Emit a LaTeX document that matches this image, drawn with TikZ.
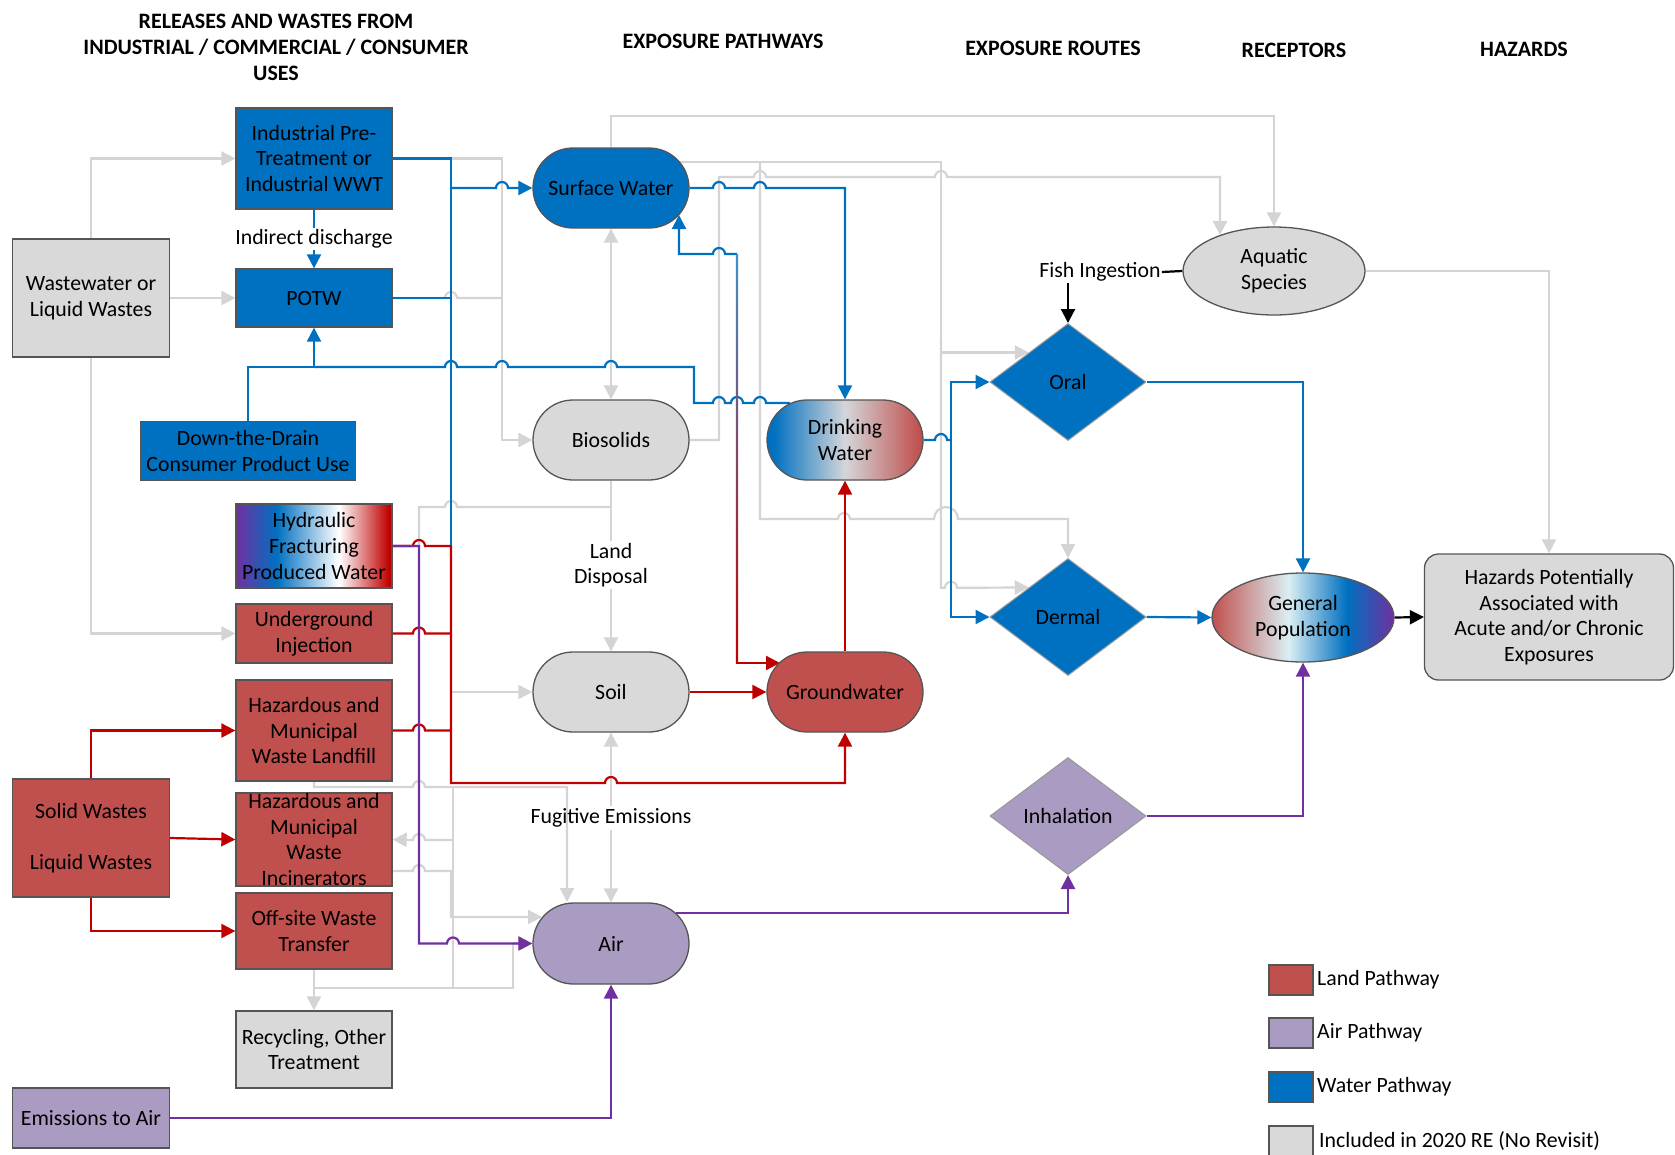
\documentclass[tikz,border=0pt]{standalone}
\usepackage{fontspec}
\setmainfont{Carlito}
\usetikzlibrary{arrows.meta,shapes.geometric,shapes.misc}
\pgfdeclarelayer{bg}
\pgfsetlayers{bg,main}
\definecolor{cblue}{RGB}{0,112,192}
\definecolor{cland}{RGB}{192,80,77}
\definecolor{cair}{RGB}{169,155,193}
\definecolor{cgrayf}{RGB}{217,217,217}
\definecolor{cred}{RGB}{192,0,0}
\definecolor{cpurp}{RGB}{112,48,160}
\definecolor{cgl}{RGB}{212,212,212}
\definecolor{clcyan}{RGB}{218,238,243}
\definecolor{cdwmid}{RGB}{212,214,218}
\definecolor{cbord}{RGB}{85,85,85}
\pgfdeclarehorizontalshading{hfsh}{100bp}{color(0bp)=(cpurp); color(25bp)=(cpurp); color(38bp)=(cblue); color(58bp)=(white); color(74bp)=(cred); color(100bp)=(cred)}
\pgfdeclarehorizontalshading{dwsh}{100bp}{color(0bp)=(cblue); color(27bp)=(cblue); color(50bp)=(cdwmid); color(74bp)=(cland); color(100bp)=(cland)}
\pgfdeclarehorizontalshading{gpsh}{100bp}{color(0bp)=(cland); color(25bp)=(cland); color(46bp)=(clcyan); color(62bp)=(cblue); color(75bp)=(cpurp); color(100bp)=(cpurp)}
\tikzset{
 every node/.style={font=\fontsize{21.8}{25.6}\selectfont, text=black},
 bx/.style={draw=cbord, line width=1.3pt, rectangle, inner sep=0pt, align=center},
 stad/.style={draw=cbord, line width=1.3pt, rounded rectangle, minimum width=156pt, minimum height=80pt, inner sep=0pt, align=center},
 dia/.style={diamond, draw=black!40, line width=1pt, minimum width=156pt, minimum height=117pt, inner sep=0pt},
 ell/.style={ellipse, draw=cbord, line width=1.3pt, minimum width=182pt, minimum height=88pt, inner sep=0pt, align=center},
 conn/.style={line width=2.2pt},
 gl/.style={conn, draw=cgl},
 bl/.style={conn, draw=cblue},
 rl/.style={conn, draw=cred},
 pl/.style={conn, draw=cpurp},
 kl/.style={conn, draw=black},
 arr/.style={-{Triangle[length=14pt,width=14pt]}},
 arrs/.style={{Triangle[length=14pt,width=14pt]}-},
 arr2/.style={{Triangle[length=14pt,width=14pt]}-{Triangle[length=14pt,width=14pt]}},
 hopr/.style={start angle=180, end angle=0, radius=6pt},
 hopl/.style={start angle=0, end angle=180, radius=6pt},
 bighop/.style={start angle=180, end angle=0, radius=12pt},
 hdr/.style={font=\fontsize{22}{26.2}\selectfont\bfseries, align=center},
}
\begin{document}
\begin{tikzpicture}[x=1pt,y=-1pt]
\begin{pgfonlayer}{bg}
\fill[white] (0,0) rectangle (1675,1154);
\end{pgfonlayer}
\useasboundingbox (0,0) rectangle (1675,1154);

% headers
\node[hdr] (h1) at (276,47.5) {RELEASES AND WASTES FROM\\INDUSTRIAL / COMMERCIAL / CONSUMER\\USES};
\node[hdr] (h2) at (723,41) {EXPOSURE PATHWAYS};
\node[hdr] (h3) at (1053,48) {EXPOSURE ROUTES};
\node[hdr] (h4) at (1294,50) {RECEPTORS};
\node[hdr] (h5) at (1524,49) {HAZARDS};

% source boxes
\node[bx, fill=cgrayf, minimum width=157pt, minimum height=118pt] (ww) at (91,298) {Wastewater or\\Liquid Wastes};
\node[bx, fill=cblue, minimum width=156pt, minimum height=101pt] (ind) at (314,158.5) {Industrial Pre-\\Treatment or\\Industrial WWT};
\node[bx, fill=cblue, minimum width=156pt, minimum height=58pt] (potw) at (314,298) {POTW};
\node[bx, fill=cblue, minimum width=215pt, minimum height=59pt] (dtd) at (248,451) {Down-the-Drain\\Consumer Product Use};
\node[bx, shade, shading=hfsh, minimum width=156pt, minimum height=84pt] (hf) at (314,546) {Hydraulic\\Fracturing\\Produced Water};
\node[bx, fill=cland, minimum width=156pt, minimum height=59pt] (ui) at (314,633.5) {Underground\\Injection};
\node[bx, fill=cland, minimum width=156pt, minimum height=101pt] (lf) at (314,730.5) {Hazardous and\\Municipal\\Waste Landfill};
\node[bx, fill=cland, minimum width=156pt, minimum height=93pt] (inc) at (314,839.5) {};
\node[align=center, inner sep=0pt] (inct) at (inc.center) {Hazardous and\\Municipal\\Waste\\Incinerators};
\node[bx, fill=cland, minimum width=157pt, minimum height=118pt] (sl) at (91,838) {Solid Wastes\\[25.6pt]Liquid Wastes};
\node[bx, fill=cland, minimum width=156pt, minimum height=76pt] (ow) at (314,931) {Off-site Waste\\Transfer};
\node[bx, fill=cgrayf, minimum width=156pt, minimum height=77pt] (rec) at (314,1049.5) {Recycling, Other\\Treatment};
\node[bx, fill=cair, minimum width=157pt, minimum height=60pt] (ea) at (91,1118) {Emissions to Air};

% pathways
\node[stad, fill=cblue] (sw) at (611,188) {Surface Water};
\node[stad, fill=cgrayf] (bio) at (611,440) {Biosolids};
\node[stad, fill=cgrayf] (soil) at (611,692) {Soil};
\node[stad, fill=cair, minimum height=81pt] (air) at (611,943.5) {Air};
\node[stad, shade, shading=dwsh] (dw) at (845,440) {Drinking\\Water};
\node[stad, fill=cland] (gw) at (845,692) {Groundwater};

% routes
\node[dia, fill=cblue] (oral) at (1068,382) {Oral};
\node[dia, fill=cblue] (derm) at (1068,617) {Dermal};
\node[dia, fill=cair] (inh) at (1068,816) {Inhalation};

% receptors / hazards
\node[ell, fill=cgrayf] (aq) at (1274,271) {Aquatic\\Species};
\node[ell, shade, shading=gpsh, minimum height=89pt] (gp) at (1303,617.5) {General\\Population};
\node[bx, fill=cgrayf, rounded corners=14pt, minimum width=249pt, minimum height=126pt] (hz) at (1549,617) {Hazards Potentially\\Associated with\\Acute and/or Chronic\\Exposures};

% legend
\node[bx, fill=cland, minimum width=44pt, minimum height=30pt] (lg1) at (1291,980) {};
\node[anchor=west, inner sep=0pt] (lt1) at (1317,980) {Land Pathway};
\node[bx, fill=cair, minimum width=44pt, minimum height=30pt] (lg2) at (1291,1033) {};
\node[anchor=west, inner sep=0pt] (lt2) at (1317,1033) {Air Pathway};
\node[bx, fill=cblue, minimum width=44pt, minimum height=30pt] (lg3) at (1291,1087) {};
\node[anchor=west, inner sep=0pt] (lt3) at (1317,1087) {Water Pathway};
\node[bx, fill=cgrayf, minimum width=44pt, minimum height=30pt] (lg4) at (1291,1141) {};
\node[anchor=west, inner sep=0pt] (lt4) at (1319,1141) {Included in 2020 RE (No Revisit)};

% labels
\node[inner sep=1pt] (idl) at (314,239) {Indirect discharge};
\node[inner sep=2pt, align=center] (ldl) at (611,565) {Land\\Disposal};
\node[inner sep=2pt] (fel) at (611,818) {Fugitive Emissions};
\node[inner sep=1pt] (fish) at (1100,272) {Fish Ingestion};

\coordinate (swne) at (679,162);
\coordinate (swse) at (679,215);
\coordinate (aqa) at (1220,235);
\coordinate (airnw) at (567,902);
\coordinate (airw2) at (542,917);
\coordinate (airne) at (676,913);
\coordinate (gwnw) at (780,663);
\coordinate (dwnw) at (790,403);

\begin{pgfonlayer}{bg}
% ---------------- gray connectors
\draw[gl, arr] (ww.north) |- (ind.west);
\draw[gl, arr] (ww.east) -- (potw.west);
\draw[gl, arr] (ww.south) |- (ui.west);
\draw[gl, arr] (ind.east) -- (502,158.5) |- (bio.west);
\draw[gl] (potw.east) -- (445,298) arc[hopr] -- (502,298);
\draw[gl, arr2] (sw.south) -- (bio.north);
\draw[gl, arr] (sw.north) -- (611,116) -| (aq.north);
\draw[gl, arr] (swne) -- (941,162) |- (oral.north west);
\draw[gl, arr] (941,340) -- (941,587.75) -- (945,587.75) arc[hopr] -- (derm.north west);
\draw[gl, arr] (760,162) -- (760,519) -- (838,519) arc[hopr] -- (934,519) arc[bighop] -- (1068,519) -- (derm.north);
\draw[gl, arr] (bio.east) -- (719,440) -- (719,177) -- (754,177) arc[hopr] -- (935,177) arc[hopr] -- (1220,177) -- (aqa);
\draw[gl, arr] (aq.east) -| (hz.north);
\draw[gl] (hf.east) -- (419,546) -- (419,507) -- (445,507) arc[hopr] -- (611,507);
\draw[gl] (bio.south) -- (ldl.north);
\draw[gl, arr] (ldl.south) -- (soil.north);
\draw[gl, arr] (451,692) -- (soil.west);
\draw[gl, arrs] (soil.south) -- (fel.north);
\draw[gl, arr] (fel.south) -- (air.north);
\draw[gl, arr] (lf.south) -- (314,787) -- (413,787) arc[hopr] -- (567,787) -- (airnw);
\draw[gl, arr] (inc.east |- 0,871) -- (413,871) arc[hopr] -- (451,871) -- (451,917) -- (airw2);
\draw[gl] (453,787) -- (453,988);
\draw[gl, arr] (453,840) -- (425,840) arc[hopl] -- (inc.east);
\draw[gl, arr] (ow.south) -- (rec.north);
\draw[gl, arr] (314,988) -- (513,988) -- (513,943.5) -- (air.west);

% ---------------- blue connectors
\draw[bl] (ind.east) -- (451,158.5) -- (451,546);
\draw[bl, arr] (451,188) -- (496,188) arc[hopr] -- (sw.west);
\draw[bl] (potw.east) -- (451,298);
\draw[bl] (ind.south) -- (idl.north);
\draw[bl, arr] (idl.south) -- (potw.north);
\draw[bl, arr] (dtd.north) |- (314,367) -- (potw.south);
\draw[bl] (314,367) -- (445,367) arc[hopr] -- (496,367) arc[hopr] -- (605,367) arc[hopr] -- (694,367) -- (694,403) -- (713,403) arc[hopr] -- (731,403) arc[hopr] -- (754,403) arc[hopr] -- (dwnw);
\draw[bl, arr] (sw.east) -- (713,188) arc[hopr] -- (754,188) arc[hopr] -- (845,188) -- (dw.north);
\draw[bl, arr] (737,254) -- (725,254) arc[hopl] -- (679,254) -- (swse);
\shade[top color=cblue!70!cgrayf, middle color=cgrayf!80!cland, bottom color=cred] (735.9,254) rectangle (738.1,663);
\draw[rl, arr] (737,663) -- (gwnw);
\draw[bl] (dw.east) -- (935,440) arc[hopr] -- (951,440);
\draw[bl, arr] (951,440) |- (oral.west);
\draw[bl, arr] (951,440) |- (derm.west);
\draw[bl, arr] (oral.east) -| (gp.north);
\draw[bl, arr] (derm.east) -- (gp.west);

% ---------------- red connectors
\draw[rl, arr] (hf.east) -- (413,546) arc[hopr] -- (451,546) -- (451,783) -- (605,783) arc[hopr] -- (845,783) -- (gw.south);
\draw[rl] (ui.east) -- (413,633.5) arc[hopr] -- (451,633.5);
\draw[rl] (lf.east) -- (413,730.5) arc[hopr] -- (451,730.5);
\draw[rl, arr] (sl.north) |- (lf.west);
\draw[rl, arr] (sl.east) -- (inc.west);
\draw[rl, arr] (sl.south) |- (ow.west);
\draw[rl, arr] (soil.east) -- (gw.west);
\draw[rl, arr] (gw.north) -- (dw.south);

% ---------------- purple connectors
\draw[pl, arr] (hf.east) -- (419,546) -- (419,943.5) -- (447,943.5) arc[hopr] -- (air.west);
\draw[pl, arr] (ea.east) -| (air.south);
\draw[pl, arr] (airne) -- (1068,913) -- (inh.south);
\draw[pl, arr] (inh.east) -| (gp.south);

% ---------------- black connectors
\draw[kl] (fish.east) -- (aq.west);
\draw[kl, arr] (fish.south -| oral.north) -- (oral.north);
\draw[kl, arr] (gp.east) -- (hz.west);
\end{pgfonlayer}
\end{tikzpicture}
\end{document}
